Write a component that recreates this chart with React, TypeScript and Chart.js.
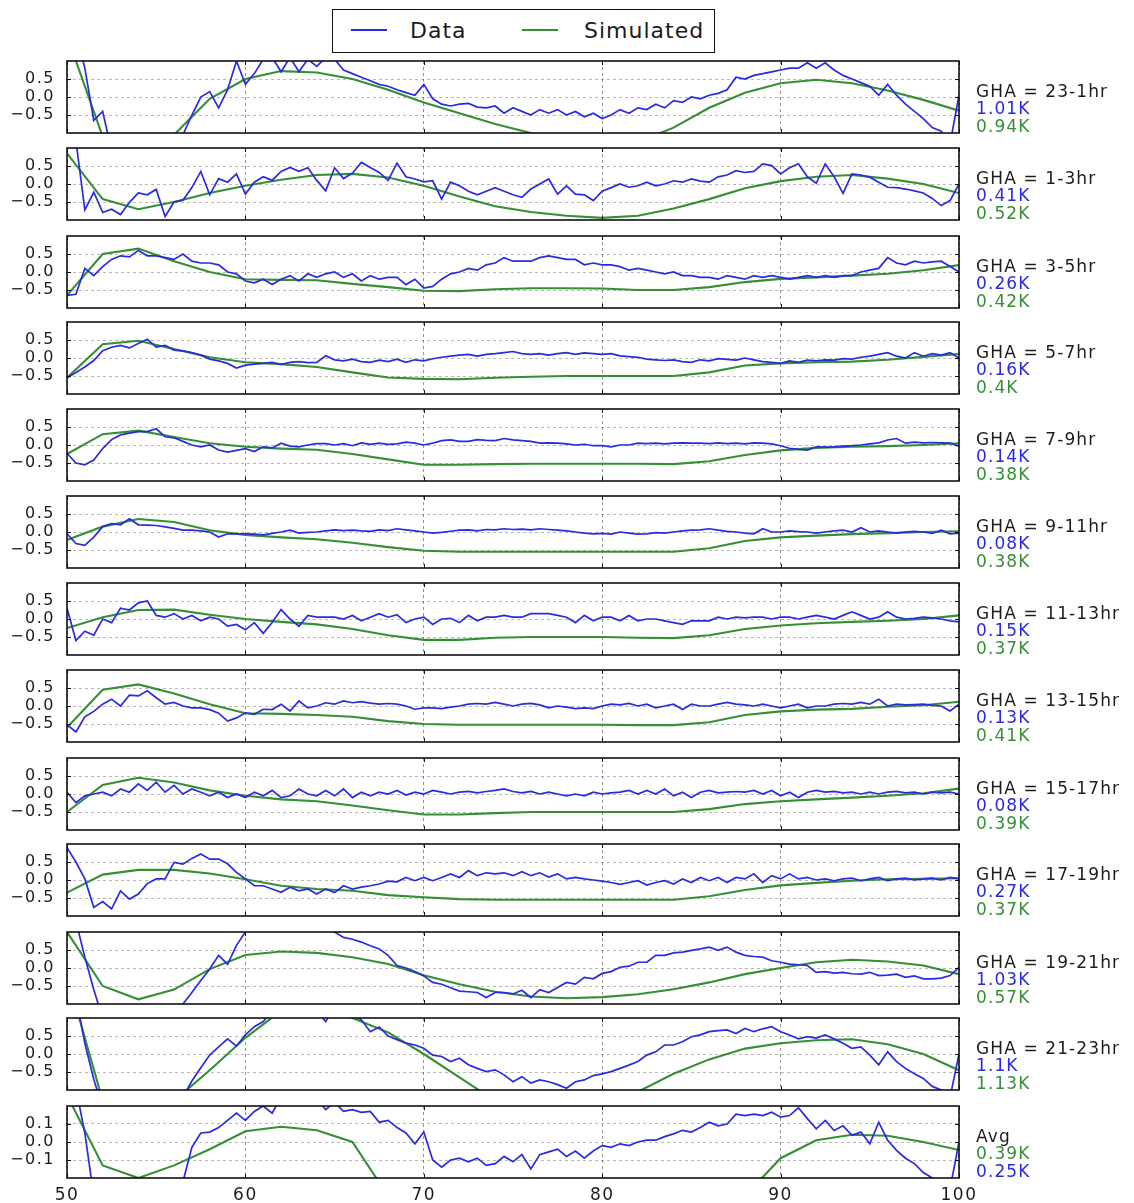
import React, { useEffect, useRef } from 'react';
import { Chart, registerables } from 'chart.js';

Chart.register(...registerables);

// ---------- data ----------
const FREQ_FINE = [
  50, 50.5, 51, 51.5, 52, 52.5, 53, 53.5, 54, 54.5,
  55, 55.5, 56, 56.5, 57, 57.5, 58, 58.5, 59, 59.5,
  60, 60.5, 61, 61.5, 62, 62.5, 63, 63.5, 64, 64.5,
  65, 65.5, 66, 66.5, 67, 67.5, 68, 68.5, 69, 69.5,
  70, 70.5, 71, 71.5, 72, 72.5, 73, 73.5, 74, 74.5,
  75, 75.5, 76, 76.5, 77, 77.5, 78, 78.5, 79, 79.5,
  80, 80.5, 81, 81.5, 82, 82.5, 83, 83.5, 84, 84.5,
  85, 85.5, 86, 86.5, 87, 87.5, 88, 88.5, 89, 89.5,
  90, 90.5, 91, 91.5, 92, 92.5, 93, 93.5, 94, 94.5,
  95, 95.5, 96, 96.5, 97, 97.5, 98, 98.5, 99, 99.5,
  100,
];
const FREQ_COARSE = [50, 52, 54, 56, 58, 60, 62, 64, 66, 68, 70, 72, 74, 76, 78, 80, 82, 84, 86, 88, 90, 92, 94, 96, 98, 100];
const X_TICKS = [50, 60, 70, 80, 90, 100];
const Y_TICKS = [-0.5, 0, 0.5];
const Y_TICKS_AVG = [-0.1, 0, 0.1];

const PANEL_LABELS = ['GHA = 23-1hr', 'GHA = 1-3hr', 'GHA = 3-5hr', 'GHA = 5-7hr', 'GHA = 7-9hr', 'GHA = 9-11hr', 'GHA = 11-13hr', 'GHA = 13-15hr', 'GHA = 15-17hr', 'GHA = 17-19hr', 'GHA = 19-21hr', 'GHA = 21-23hr', 'Avg'];
const DATA_RMS = ['1.01K', '0.41K', '0.26K', '0.16K', '0.14K', '0.08K', '0.15K', '0.13K', '0.08K', '0.27K', '1.03K', '1.1K', '0.25K'];
const SIM_RMS = ['0.94K', '0.52K', '0.42K', '0.4K', '0.38K', '0.38K', '0.37K', '0.41K', '0.39K', '0.37K', '0.57K', '1.13K', '0.39K'];

const DATA_23_1 = [
  2.6, 1.8, 0.8, -0.65, -0.4, -1.5, -2.0, -2.2, -2.3, -2.2,
  -2.0, -1.7, -1.4, -1.05, -0.5, 0.0, 0.15, -0.3, 0.2, 1.0,
  0.35, 0.65, 1.05, 1.1, 0.7, 1.1, 0.7, 1.05, 0.85, 1.1,
  1.05, 0.75, 0.65, 0.55, 0.45, 0.35, 0.3, 0.2, 0.12, 0.05,
  0.35, -0.05, -0.2, -0.25, -0.2, -0.18, -0.28, -0.3, -0.25, -0.45,
  -0.3, -0.4, -0.5, -0.35, -0.45, -0.35, -0.5, -0.4, -0.55, -0.45,
  -0.6, -0.5, -0.35, -0.45, -0.3, -0.35, -0.2, -0.3, -0.1, -0.15,
  0.0, -0.05, 0.05, 0.1, 0.2, 0.55, 0.5, 0.6, 0.65, 0.7,
  0.75, 0.8, 0.8, 0.95, 0.8, 0.95, 0.75, 0.6, 0.5, 0.4,
  0.3, 0.05, 0.35, 0.05, -0.2, -0.4, -0.6, -0.85, -0.95, -1.3,
  0.05,
];
const DATA_1_3 = [
  2.2, 1.2, -0.72, -0.23, -0.79, -0.7, -0.85, -0.51, -0.25, -0.3,
  -0.15, -0.9, -0.5, -0.45, -0.1, 0.35, -0.3, 0.15, 0.05, 0.28,
  -0.28, 0.05, 0.2, 0.1, 0.35, 0.46, 0.35, 0.45, 0.1, -0.19,
  0.45, 0.15, 0.3, 0.6, 0.46, 0.32, 0.1, 0.58, 0.2, 0.14,
  0.06, 0.09, -0.42, 0.05, -0.05, -0.2, -0.3, -0.2, -0.1, -0.2,
  -0.3, -0.37, -0.14, 0.0, 0.14, -0.28, -0.05, -0.28, -0.3, -0.46,
  -0.2, -0.1, 0.0, -0.09, -0.05, 0.05, -0.05, 0.0, 0.09, 0.05,
  0.14, 0.08, 0.05, 0.2, 0.25, 0.37, 0.32, 0.35, 0.56, 0.51,
  0.28, 0.45, 0.56, 0.2, 0.02, 0.56, 0.2, -0.26, 0.28, 0.25,
  0.19, 0.05, -0.09, -0.1, -0.14, -0.19, -0.25, -0.4, -0.6, -0.46,
  0.0,
];
const DATA_3_5 = [
  -0.65, -0.62, 0.1, -0.1, 0.15, 0.35, 0.45, 0.42, 0.6, 0.45,
  0.45, 0.4, 0.35, 0.5, 0.3, 0.25, 0.25, 0.2, 0.0, -0.05,
  -0.25, -0.3, -0.2, -0.35, -0.2, -0.1, -0.25, -0.05, -0.15, -0.05,
  0.0, -0.15, -0.05, -0.25, -0.1, -0.2, -0.15, -0.15, -0.35, -0.2,
  -0.45, -0.4, -0.2, -0.05, 0.0, 0.1, 0.05, 0.2, 0.25, 0.4,
  0.3, 0.3, 0.3, 0.4, 0.45, 0.4, 0.35, 0.35, 0.2, 0.25,
  0.2, 0.2, 0.15, 0.05, 0.1, 0.05, 0.0, -0.05, 0.0, -0.1,
  -0.1, -0.15, -0.15, -0.2, -0.1, -0.15, -0.2, -0.1, -0.15, -0.1,
  -0.15, -0.2, -0.15, -0.1, -0.15, -0.1, -0.15, -0.1, -0.1, 0.0,
  0.05, 0.1, 0.4, 0.25, 0.2, 0.3, 0.25, 0.28, 0.3, 0.15,
  0.0,
];
const DATA_5_7 = [
  -0.55, -0.4, -0.25, -0.07, 0.2, 0.3, 0.35, 0.28, 0.4, 0.52,
  0.3, 0.35, 0.22, 0.2, 0.15, 0.08, -0.03, -0.08, -0.15, -0.28,
  -0.2, -0.17, -0.15, -0.12, -0.18, -0.12, -0.1, -0.13, -0.12, 0.06,
  -0.05, -0.08, -0.03, -0.1, -0.12, -0.06, -0.1, -0.03, -0.12, -0.05,
  -0.08, -0.02, 0.02, 0.05, 0.08, 0.1, 0.05, 0.1, 0.12, 0.15,
  0.18, 0.12, 0.1, 0.12, 0.08, 0.12, 0.15, 0.1, 0.14, 0.12,
  0.1, 0.12, 0.06, 0.04, 0.02, -0.03, -0.05, -0.07, -0.05, -0.1,
  -0.12, -0.05, -0.08, -0.02, -0.04, -0.06, 0.0, -0.05, -0.1, -0.12,
  -0.15, -0.08, -0.12, -0.06, -0.08, -0.05, -0.06, -0.02, -0.03, 0.02,
  0.05, 0.1, 0.15, 0.05, 0.0, 0.15, 0.05, 0.12, 0.08, 0.15,
  0.0,
];
const DATA_7_9 = [
  -0.23, -0.5, -0.55, -0.42, -0.1, 0.15, 0.28, 0.33, 0.37, 0.37,
  0.45, 0.23, 0.2, 0.1, 0.0, -0.05, 0.0, -0.14, -0.2, -0.15,
  -0.1, -0.18, -0.05, -0.08, 0.05, -0.03, -0.05, 0.0, 0.04, 0.04,
  0.0, 0.04, -0.02, 0.06, 0.02, 0.05, 0.02, 0.03, 0.08, 0.05,
  0.0, 0.05, 0.12, 0.14, 0.1, 0.1, 0.15, 0.13, 0.12, 0.18,
  0.14, 0.12, 0.1, 0.05, 0.06, 0.05, 0.03, 0.0, 0.02, -0.02,
  -0.02, -0.05, 0.0, 0.0, 0.05, 0.04, 0.05, 0.03, 0.05, 0.06,
  0.05, 0.05, 0.04, 0.06, 0.04, 0.05, 0.03, 0.06, 0.05, 0.03,
  -0.02, -0.09, -0.12, -0.14, -0.05, -0.06, -0.05, -0.03, -0.02, 0.0,
  0.03, 0.06, 0.14, 0.18, 0.05, 0.08, 0.06, 0.07, 0.06, 0.05,
  -0.03,
];
const DATA_9_11 = [
  -0.05, -0.32, -0.37, -0.14, 0.15, 0.23, 0.2, 0.37, 0.2, 0.19,
  0.18, 0.14, 0.1, 0.05, 0.05, 0.03, 0.0, -0.14, -0.05, -0.05,
  -0.05, -0.06, -0.08, -0.04, 0.0, 0.05, -0.03, -0.01, 0.0, 0.03,
  0.06, 0.04, 0.05, 0.03, 0.02, 0.06, 0.04, 0.09, 0.06, 0.03,
  0.0, -0.03, -0.01, 0.02, 0.05, 0.06, 0.03, 0.07, 0.06, 0.09,
  0.07, 0.08, 0.06, 0.09, 0.07, 0.05, 0.03, 0.0, -0.03, -0.05,
  -0.04, -0.06, 0.0, -0.03, -0.06, -0.05, -0.02, -0.03, 0.0, 0.03,
  0.05, 0.06, 0.09, 0.05, 0.02, 0.0, -0.03, -0.05, 0.09, 0.0,
  0.0, 0.03, 0.01, 0.0, -0.03, 0.0, 0.03, 0.05, 0.0, 0.12,
  0.0, 0.03, 0.0, -0.03, 0.0, 0.02, 0.0, -0.04, 0.05, -0.05,
  -0.03,
];
const DATA_11_13 = [
  0.3, -0.6, -0.34, -0.45, 0.0, -0.1, 0.3, 0.25, 0.45, 0.5,
  0.1, 0.05, 0.15, 0.0, 0.1, -0.05, 0.05, 0.0, -0.2, -0.15,
  -0.3, -0.1, -0.4, -0.1, 0.26, 0.0, -0.2, 0.1, 0.05, 0.05,
  0.05, 0.0, 0.1, -0.05, 0.05, 0.15, 0.05, 0.12, -0.1, 0.0,
  0.05, -0.15, 0.0, 0.02, -0.1, 0.1, -0.05, 0.05, 0.05, 0.1,
  0.05, 0.05, 0.15, 0.15, 0.15, 0.1, 0.05, -0.1, 0.1, -0.05,
  0.05, 0.05, -0.05, 0.1, -0.05, 0.0, 0.0, -0.05, -0.1, -0.15,
  -0.05, -0.05, -0.05, 0.05, 0.0, 0.05, 0.03, 0.05, 0.05, 0.0,
  0.05, 0.05, 0.0, 0.05, 0.1, 0.05, 0.0, 0.1, 0.2, 0.1,
  0.0, 0.05, 0.2, 0.05, 0.0, 0.02, 0.05, 0.03, 0.0, -0.05,
  -0.08,
];
const DATA_13_15 = [
  -0.52, -0.72, -0.3, -0.15, 0.05, 0.19, 0.0, 0.3, 0.28, 0.42,
  0.23, 0.05, 0.1, 0.0, -0.05, -0.05, -0.1, -0.2, -0.42, -0.33,
  -0.19, -0.23, -0.09, -0.1, 0.05, -0.14, 0.14, -0.05, 0.0, 0.09,
  0.05, 0.14, 0.09, 0.12, 0.08, 0.05, 0.07, 0.05, 0.0, -0.09,
  -0.05, -0.05, -0.07, -0.03, 0.0, 0.05, 0.07, 0.05, 0.1, 0.05,
  0.0, 0.05, 0.07, 0.03, -0.05, 0.0, -0.03, -0.07, -0.05, -0.07,
  0.0, 0.05, 0.03, 0.07, 0.0, 0.05, -0.05, 0.0, 0.05, -0.1,
  0.05, 0.0, 0.0, 0.05, 0.1, 0.05, 0.03, 0.0, 0.05, 0.0,
  -0.05, 0.0, 0.05, -0.05, 0.0, 0.0, 0.05, 0.07, 0.05, 0.1,
  0.05, 0.19, 0.0, 0.05, 0.03, 0.04, 0.05, 0.02, 0.0, -0.14,
  0.05,
];
const DATA_15_17 = [
  0.05, -0.24, -0.05, 0.0, 0.05, -0.05, 0.14, 0.05, 0.28, 0.1,
  0.33, 0.05, 0.24, 0.0, 0.14, 0.05, -0.05, 0.05, -0.1, 0.0,
  -0.1, 0.05, -0.05, 0.1, -0.1, -0.05, 0.14, 0.0, -0.05, 0.1,
  -0.05, 0.14, -0.1, 0.05, -0.05, 0.05, 0.0, 0.1, -0.03, 0.05,
  0.0, 0.1, 0.05, 0.0, 0.05, 0.07, 0.03, 0.07, 0.1, 0.14,
  0.07, 0.03, 0.07, 0.0, 0.05, 0.0, -0.05, 0.0, -0.05, 0.05,
  0.0, 0.03, 0.05, 0.1, 0.0, 0.1, 0.0, 0.14, -0.05, 0.05,
  -0.1, 0.05, 0.1, 0.03, 0.05, 0.07, 0.05, 0.1, 0.0, 0.1,
  -0.05, 0.05, -0.1, 0.05, 0.1, 0.05, 0.07, 0.03, 0.05, 0.0,
  0.05, 0.0, 0.05, 0.07, 0.03, 0.05, 0.0, 0.05, 0.03, 0.05,
  0.0,
];
const DATA_17_19 = [
  0.9, 0.5, 0.03, -0.76, -0.6, -0.8, -0.3, -0.53, -0.39, -0.1,
  0.03, 0.03, 0.49, 0.44, 0.6, 0.72, 0.58, 0.58, 0.45, 0.21,
  0.03, -0.16, -0.16, -0.25, -0.34, -0.2, -0.3, -0.25, -0.39, -0.25,
  -0.35, -0.16, -0.25, -0.2, -0.16, -0.11, -0.03, -0.05, 0.07, -0.02,
  0.07, -0.02, 0.07, 0.17, 0.07, 0.26, 0.12, 0.2, 0.17, 0.2,
  0.12, 0.23, 0.12, 0.2, 0.08, 0.17, 0.03, 0.07, 0.03, 0.0,
  -0.03, -0.07, -0.12, -0.07, -0.02, -0.14, -0.07, -0.02, -0.11, 0.03,
  -0.07, 0.07, -0.02, 0.07, -0.07, 0.07, 0.03, 0.17, -0.07, 0.12,
  0.03, 0.17, 0.03, 0.07, 0.0, 0.03, -0.02, 0.03, 0.05, -0.02,
  0.03, 0.07, -0.02, 0.03, 0.05, 0.0, 0.03, 0.05, 0.0, 0.07,
  0.03,
];
const DATA_19_21 = [
  2.2, 1.3, 0.3, -0.6, -1.4, -2.0, -2.4, -2.5, -2.4, -2.2,
  -1.9, -1.6, -1.3, -1.0, -0.68, -0.35, -0.03, 0.35, 0.1, 0.63,
  1.0, 1.3, 1.5, 1.6, 1.6, 1.5, 1.4, 1.3, 1.2, 1.1,
  1.0, 0.85, 0.8, 0.72, 0.62, 0.53, 0.35, 0.07, 0.0, -0.1,
  -0.22, -0.4, -0.45, -0.55, -0.64, -0.66, -0.68, -0.82, -0.68, -0.68,
  -0.72, -0.62, -0.82, -0.6, -0.68, -0.54, -0.4, -0.45, -0.26, -0.3,
  -0.15, -0.1, 0.02, 0.05, 0.16, 0.16, 0.35, 0.35, 0.42, 0.44,
  0.49, 0.53, 0.58, 0.49, 0.58, 0.44, 0.35, 0.32, 0.3, 0.2,
  0.16, 0.11, 0.09, 0.07, -0.12, -0.1, -0.14, -0.12, -0.16, -0.17,
  -0.12, -0.21, -0.2, -0.17, -0.26, -0.22, -0.3, -0.3, -0.28, -0.21,
  0.02,
];
const DATA_21_23 = [
  3.0, 1.6, 0.3, -0.7, -1.5, -2.1, -2.5, -2.7, -2.7, -2.5,
  -2.2, -1.9, -1.6, -1.2, -0.75, -0.38, -0.03, 0.2, 0.42, 0.22,
  0.53, 0.76, 0.9, 1.2, 1.4, 1.5, 1.5, 1.4, 1.2, 0.9,
  1.3, 1.2, 1.1, 0.95, 0.62, 0.75, 0.5, 0.4, 0.3, 0.25,
  0.16, -0.03, -0.07, -0.21, -0.12, -0.3, -0.4, -0.49, -0.44, -0.58,
  -0.77, -0.63, -0.81, -0.72, -0.77, -0.85, -0.95, -0.77, -0.72, -0.6,
  -0.55, -0.49, -0.4, -0.31, -0.21, -0.03, 0.06, 0.25, 0.25, 0.34,
  0.48, 0.53, 0.62, 0.65, 0.67, 0.57, 0.71, 0.62, 0.7, 0.76,
  0.62, 0.53, 0.42, 0.48, 0.44, 0.53, 0.42, 0.3, 0.16, 0.2,
  -0.03, -0.3, 0.06, -0.21, -0.4, -0.55, -0.68, -0.9, -1.0, -1.2,
  0.0,
];
const DATA_AVG = [
  0.5, 0.3, 0.05, -0.3, -0.5, -0.6, -0.65, -0.65, -0.6, -0.55,
  -0.5, -0.4, -0.3, -0.22, -0.03, 0.05, 0.055, 0.08, 0.12, 0.16,
  0.12, 0.17, 0.2, 0.16, 0.25, 0.24, 0.26, 0.25, 0.24, 0.18,
  0.22, 0.17, 0.18, 0.165, 0.17, 0.11, 0.12, 0.08, 0.05, -0.01,
  0.055, -0.1, -0.14, -0.1, -0.09, -0.11, -0.09, -0.13, -0.12, -0.08,
  -0.11, -0.07, -0.15, -0.07, -0.055, -0.04, -0.08, -0.05, -0.09, -0.05,
  -0.02, -0.03, -0.01, -0.02, 0.0, 0.01, 0.01, 0.03, 0.045, 0.065,
  0.055, 0.08, 0.11, 0.09, 0.1, 0.155, 0.147, 0.155, 0.147, 0.165,
  0.138, 0.147, 0.19, 0.13, 0.073, 0.12, 0.064, 0.09, 0.037, 0.055,
  -0.01, 0.11, 0.01, -0.046, -0.09, -0.12, -0.17, -0.2, -0.24, -0.26,
  0.0,
];

const SIM_23_1 = [1.7, -1.1, -2.0, -1.05, -0.05, 0.5, 0.72, 0.68, 0.5, 0.2, -0.15, -0.45, -0.75, -1.0, -1.2, -1.3, -1.25, -0.85, -0.3, 0.12, 0.38, 0.48, 0.38, 0.18, -0.08, -0.38];
const SIM_1_3 = [0.85, -0.42, -0.7, -0.5, -0.25, -0.05, 0.12, 0.25, 0.28, 0.18, -0.05, -0.35, -0.62, -0.78, -0.88, -0.94, -0.88, -0.68, -0.42, -0.12, 0.08, 0.2, 0.25, 0.15, 0.0, -0.25];
const SIM_3_5 = [-0.65, 0.5, 0.65, 0.3, 0.0, -0.2, -0.22, -0.23, -0.33, -0.42, -0.52, -0.53, -0.48, -0.45, -0.45, -0.46, -0.5, -0.5, -0.42, -0.28, -0.19, -0.15, -0.1, -0.05, 0.05, 0.19];
const SIM_5_7 = [-0.55, 0.38, 0.48, 0.25, 0.02, -0.12, -0.17, -0.25, -0.4, -0.54, -0.58, -0.59, -0.55, -0.52, -0.5, -0.5, -0.5, -0.5, -0.4, -0.21, -0.15, -0.12, -0.1, -0.05, 0.03, 0.11];
const SIM_7_9 = [-0.25, 0.3, 0.4, 0.22, 0.05, -0.05, -0.1, -0.13, -0.25, -0.4, -0.55, -0.55, -0.53, -0.52, -0.52, -0.52, -0.52, -0.53, -0.45, -0.28, -0.15, -0.08, -0.05, -0.03, 0.0, 0.05];
const SIM_9_11 = [-0.22, 0.15, 0.36, 0.28, 0.05, -0.08, -0.15, -0.2, -0.3, -0.42, -0.52, -0.55, -0.55, -0.55, -0.55, -0.55, -0.55, -0.55, -0.45, -0.25, -0.15, -0.1, -0.06, -0.03, 0.0, 0.02];
const SIM_11_13 = [-0.25, 0.05, 0.25, 0.26, 0.12, 0.0, -0.08, -0.15, -0.28, -0.45, -0.58, -0.58, -0.52, -0.5, -0.5, -0.5, -0.52, -0.53, -0.45, -0.28, -0.18, -0.12, -0.08, -0.05, 0.0, 0.1];
const SIM_13_15 = [-0.6, 0.45, 0.6, 0.35, 0.05, -0.2, -0.22, -0.25, -0.3, -0.42, -0.5, -0.52, -0.52, -0.52, -0.52, -0.52, -0.53, -0.53, -0.45, -0.25, -0.15, -0.1, -0.08, -0.02, 0.02, 0.12];
const SIM_15_17 = [-0.5, 0.25, 0.45, 0.32, 0.1, -0.05, -0.15, -0.2, -0.32, -0.45, -0.57, -0.57, -0.53, -0.5, -0.5, -0.5, -0.5, -0.5, -0.42, -0.28, -0.2, -0.15, -0.1, -0.05, 0.02, 0.15];
const SIM_17_19 = [-0.35, 0.15, 0.28, 0.28, 0.18, 0.02, -0.16, -0.25, -0.3, -0.42, -0.48, -0.53, -0.55, -0.55, -0.55, -0.55, -0.55, -0.55, -0.45, -0.28, -0.15, -0.08, -0.02, 0.02, 0.03, 0.05];
const SIM_19_21 = [1.0, -0.5, -0.87, -0.6, -0.03, 0.36, 0.46, 0.42, 0.3, 0.11, -0.2, -0.45, -0.66, -0.79, -0.84, -0.81, -0.73, -0.59, -0.4, -0.17, 0.0, 0.16, 0.23, 0.18, 0.07, -0.17];
const SIM_21_23 = [2.2, -1.3, -2.8, -1.3, -0.45, 0.45, 1.2, 1.3, 1.0, 0.6, 0.0, -0.65, -1.3, -1.7, -1.9, -1.7, -1.05, -0.55, -0.15, 0.15, 0.3, 0.38, 0.41, 0.27, 0.0, -0.45];
const SIM_AVG = [0.26, -0.13, -0.2, -0.13, -0.04, 0.06, 0.085, 0.065, 0.0, -0.3, -0.55, -0.7, -0.8, -0.85, -0.8, -0.7, -0.6, -0.5, -0.4, -0.3, -0.09, 0.01, 0.04, 0.035, 0.0, -0.045];

const DATA_SERIES = [DATA_23_1, DATA_1_3, DATA_3_5, DATA_5_7, DATA_7_9, DATA_9_11, DATA_11_13, DATA_13_15, DATA_15_17, DATA_17_19, DATA_19_21, DATA_21_23, DATA_AVG];
const SIM_SERIES = [SIM_23_1, SIM_1_3, SIM_3_5, SIM_5_7, SIM_7_9, SIM_9_11, SIM_11_13, SIM_13_15, SIM_15_17, SIM_17_19, SIM_19_21, SIM_21_23, SIM_AVG];

// ---------- style ----------
const BLUE = '#2a2ae0';
const GREEN = '#358f35';
const TEXT = '#1c1c1c';
const FONT = "'DejaVu Sans', 'Bitstream Vera Sans', sans-serif";
const PAD = 10; // canvas extends above/below the plot area
const PLOT_H = 72;
const CANVAS_W = 985;
const PLOT_RIGHT = 959;
const X_AXIS_H = 32;
const PANEL_TOPS = [61, 148, 236, 322, 409, 496, 583, 670, 758, 844, 932, 1018, 1106];

Chart.defaults.font.family = FONT;
Chart.defaults.color = TEXT;

const fmtTick = (v: number) => {
  const s = Math.abs(v).toFixed(1);
  return v < -1e-9 ? '\u2212' + s : s;
};

const framePlugin = {
  id: 'mplFrame',
  beforeDraw(chart: any) {
    chart.ctx.letterSpacing = '1.5px';
  },
  beforeDatasetsDraw(chart: any) {
    chart.ctx.letterSpacing = '0px';
  },
  afterDraw(chart: any) {
    const { ctx, chartArea: a, scales } = chart;
    ctx.save();
    ctx.letterSpacing = '0px';
    ctx.strokeStyle = '#111';
    ctx.lineWidth = 1;
    ctx.beginPath();
    for (const v of X_TICKS) {
      const px = Math.round(scales.x.getPixelForValue(v)) + 0.5;
      ctx.moveTo(px, a.top);
      ctx.lineTo(px, a.top + 4);
      ctx.moveTo(px, a.bottom);
      ctx.lineTo(px, a.bottom - 4);
    }
    for (const t of scales.y.ticks) {
      const py = Math.round(scales.y.getPixelForValue(t.value)) + 0.5;
      ctx.moveTo(a.left, py);
      ctx.lineTo(a.left + 4, py);
      ctx.moveTo(a.right, py);
      ctx.lineTo(a.right - 4, py);
    }
    ctx.stroke();
    ctx.lineWidth = 1.6;
    ctx.strokeRect(a.left, a.top, a.right - a.left, a.bottom - a.top);
    ctx.restore();
  },
};

type PanelProps = { index: number };

function Panel({ index }: PanelProps) {
  const ref = useRef<HTMLCanvasElement>(null);
  const isAvg = index === 12;
  const showX = index === 12;
  const top = PANEL_TOPS[index];
  const canvasH = PAD + PLOT_H + (showX ? X_AXIS_H : PAD);

  useEffect(() => {
    const blue = DATA_SERIES[index];
    const green = SIM_SERIES[index];
    const yLim = isAvg ? 0.2 : 1;
    const yTicks = isAvg ? Y_TICKS_AVG : Y_TICKS;
    const chart = new Chart(ref.current as HTMLCanvasElement, {
      type: 'line',
      data: {
        datasets: [
          {
            label: 'Data',
            data: FREQ_FINE.map((x, i) => ({ x, y: blue[i] })),
            borderColor: BLUE,
            borderWidth: 1.7,
            pointRadius: 0,
            tension: 0,
            order: 0,
          },
          {
            label: 'Simulated',
            data: FREQ_COARSE.map((x, i) => ({ x, y: green[i] })),
            borderColor: GREEN,
            borderWidth: 2.1,
            pointRadius: 0,
            tension: 0,
            order: 1,
          },
        ],
      },
      options: {
        animation: false,
        responsive: false,
        maintainAspectRatio: false,
        events: [],
        layout: {
          padding: {
            left: 0,
            right: CANVAS_W - PLOT_RIGHT,
            top: PAD,
            bottom: showX ? 0 : PAD,
          },
        },
        plugins: { legend: { display: false }, tooltip: { enabled: false } },
        scales: {
          x: {
            type: 'linear',
            min: 50,
            max: 100,
            afterBuildTicks: (s: any) => {
              s.ticks = X_TICKS.map((v) => ({ value: v }));
            },
            afterFit: (s: any) => {
              s.height = showX ? X_AXIS_H : 0;
              s.paddingLeft = 0;
              s.paddingRight = 0;
              s.paddingTop = 0;
              s.paddingBottom = 0;
            },
            grid: { color: 'rgba(0,0,0,0.42)', lineWidth: 1, drawTicks: false },
            border: { display: false, dash: [3, 3] },
            ticks: {
              display: showX,
              autoSkip: false,
              maxRotation: 0,
              padding: 7,
              color: TEXT,
              font: { size: 17, family: FONT },
              callback: (v: any) => String(v),
            },
          },
          y: {
            min: -yLim,
            max: yLim,
            afterBuildTicks: (s: any) => {
              s.ticks = yTicks.map((v) => ({ value: v }));
            },
            afterFit: (s: any) => {
              s.width = 67;
              s.paddingTop = 0;
              s.paddingBottom = 0;
              s.paddingLeft = 0;
              s.paddingRight = 0;
            },
            grid: { color: 'rgba(0,0,0,0.28)', lineWidth: 1, drawTicks: false },
            border: { display: false, dash: [3, 3] },
            ticks: {
              padding: 12,
              color: TEXT,
              font: { size: 16, family: FONT },
              callback: (v: any) => fmtTick(Number(v)),
            },
          },
        },
      } as any,
      plugins: [framePlugin],
    });
    return () => chart.destroy();
  }, [index]);

  const labelLines = isAvg
    ? [
        { text: PANEL_LABELS[index], color: TEXT },
        { text: SIM_RMS[index], color: GREEN },
        { text: DATA_RMS[index], color: BLUE },
      ]
    : [
        { text: PANEL_LABELS[index], color: TEXT },
        { text: DATA_RMS[index], color: BLUE },
        { text: SIM_RMS[index], color: GREEN },
      ];

  return (
    <>
      <canvas
        ref={ref}
        width={CANVAS_W}
        height={canvasH}
        style={{ position: 'absolute', left: 0, top: top - PAD, width: CANVAS_W, height: canvasH }}
      />
      <div
        style={{
          position: 'absolute',
          left: 976,
          top: top + 21.5,
          fontFamily: FONT,
          fontSize: 17,
          lineHeight: '17.5px',
          letterSpacing: '1.1px',
          whiteSpace: 'nowrap',
        }}
      >
        {labelLines.map((l, i) => (
          <div key={i} style={{ color: l.color }}>
            {l.text}
          </div>
        ))}
      </div>
    </>
  );
}

function Legend() {
  return (
    <div
      style={{
        position: 'absolute',
        left: 332,
        top: 9,
        width: 383,
        height: 44,
        boxSizing: 'border-box',
        border: '1.6px solid #111',
        background: '#fff',
        fontFamily: FONT,
        fontSize: 22,
        color: TEXT,
        letterSpacing: '1px',
      }}
    >
      <div style={{ position: 'absolute', left: 18, top: 19, width: 36, height: 0, borderTop: `2px solid ${BLUE}` }} />
      <div style={{ position: 'absolute', left: 77, top: 6, lineHeight: '30px', whiteSpace: 'nowrap' }}>Data</div>
      <div style={{ position: 'absolute', left: 189, top: 19, width: 36, height: 0, borderTop: `2.2px solid ${GREEN}` }} />
      <div style={{ position: 'absolute', left: 251, top: 6, lineHeight: '30px', whiteSpace: 'nowrap' }}>Simulated</div>
    </div>
  );
}

export default function App() {
  return (
    <div
      style={{
        position: 'absolute',
        left: 0,
        top: 0,
        width: 1134,
        height: 1203,
        background: '#fff',
        overflow: 'hidden',
      }}
    >
      <Legend />
      {PANEL_LABELS.map((_, i) => (
        <Panel key={i} index={i} />
      ))}
    </div>
  );
}
